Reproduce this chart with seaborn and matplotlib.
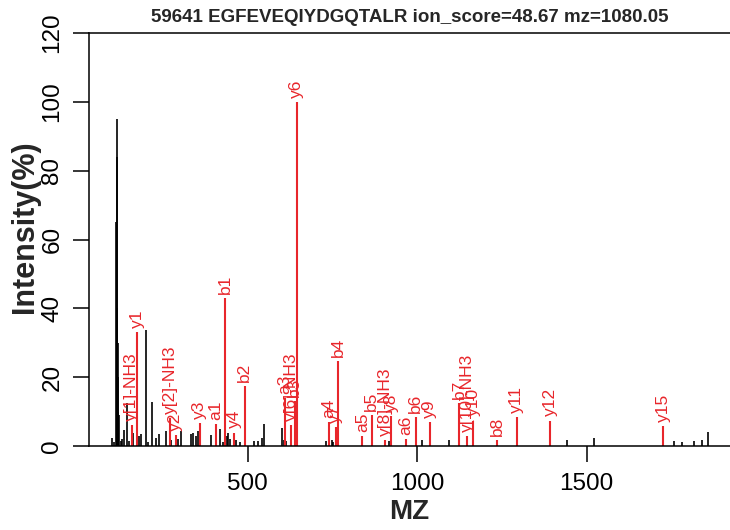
import matplotlib
matplotlib.use("Agg")
import matplotlib.pyplot as plt
import seaborn as sns

TITLE = "59641 EGFEVEQIYDGQTALR ion_score=48.67 mz=1080.05"

# unannotated peaks (m/z, relative intensity %)
black_mz = [100.7, 106.5, 113.11, 114.11, 115.11, 116.11, 117.12, 118.11, 119.12,
            121.12, 125.4, 130.0, 136.0, 143.0, 150.9, 162.7, 180.0, 187.0, 200.0,
            206.9, 218.7, 228.5, 239.4, 258.0, 275.0, 295.0, 305.0, 332.7, 339.6,
            347.5, 354.0, 391.0, 420.0, 428.0, 438.0, 443.0, 447.5, 465.5, 477.0,
            519.6, 530.0, 541.0, 549.0, 601.0, 606.0, 612.0, 647.0, 731.0, 748.0,
            752.0, 917.0, 1013.0, 1094.7, 1443.0, 1521.6, 1758.5, 1782.0, 1815.6,
            1839.0, 1857.0]
black_int = [2.2, 1.2, 65, 95, 84, 40, 30, 20, 10,
             9, 1.5, 2.0, 4.6, 12.6, 1.5, 3.9, 2.9, 3.4, 33.7,
             1.2, 12.9, 2.2, 3.5, 4.5, 1.8, 2.0, 4.5, 3.4, 3.9,
             2.9, 4.3, 3.1, 5.0, 1.2, 2.9, 3.9, 2.0, 1.6, 1.2,
             1.4, 1.5, 2.3, 6.5, 5.3, 1.8, 1.4, 27, 1.5, 1.7,
             1.2, 1.4, 1.7, 1.6, 1.6, 2.3, 1.4, 1.3, 1.4,
             1.6, 4.0]

# matched fragment ions
ion_labels = ["y[1]-NH3", "y1", "y[2]-NH3", "y2", "y3", "a1", "b1", "y4", "b2",
              "a3", "y[6]-NH3", "b3", "y6", "a4", "y7", "b4", "a5", "b5",
              "y[8]-NH3", "y8", "a6", "b6", "y9", "b7", "y[10]-NH3", "y10",
              "b8", "y11", "y12", "y15"]
ion_mz = [158.09, 175.12, 271.18, 288.20, 359.24, 406.26, 434.26, 460.29, 491.28,
          610.35, 628.34, 638.35, 645.37, 739.39, 760.40, 767.39, 838.46, 866.46,
          906.43, 923.46, 967.50, 995.50, 1036.54, 1123.56, 1147.57, 1164.60,
          1236.64, 1293.64, 1392.71, 1725.84]
ion_int = [6.0, 33.0, 8.0, 3.2, 6.7, 6.4, 43.0, 3.9, 17.4,
           14.0, 6.0, 13.0, 100.0, 6.9, 5.6, 24.7, 2.9, 9.0,
           1.7, 8.7, 1.9, 8.5, 6.9, 12.4, 2.9, 7.4,
           1.7, 8.3, 7.4, 5.8]

RED = "#E8262B"

sns.set_style("ticks")
plt.rcParams["font.family"] = ["Liberation Sans", "DejaVu Sans"]

fig = plt.figure(figsize=(7.3, 5.3), dpi=100)
ax = fig.add_axes([89 / 730, 84 / 530, 641 / 730, 413 / 530])
ax.set_xlim(32.2, 1922.7)
ax.set_ylim(0, 120)

ax.vlines(black_mz, 0, black_int, color="black", lw=1.2)
ax.vlines(ion_mz, 0, ion_int, color=RED, lw=1.5)
for lab, x, y in zip(ion_labels, ion_mz, ion_int):
    ax.annotate(lab, (x, y), xytext=(0, 3), textcoords="offset points",
                rotation=90, ha="center", va="bottom", color=RED, fontsize=12.5)

ax.set_xticks([500, 1000, 1500])
ax.set_yticks(range(0, 121, 20))
ax.tick_params(axis="both", direction="out", length=11.5, width=1.1,
               labelsize=17.5, colors="black")
ax.tick_params(axis="x", pad=8)
ax.tick_params(axis="y", pad=7, labelrotation=90)
for lbl in ax.get_yticklabels():
    lbl.set_va("center")

for side in ["left", "top", "bottom"]:
    ax.spines[side].set_linewidth(1.1)
    ax.spines[side].set_color("black")
ax.spines["right"].set_visible(False)

ax.set_xlabel("MZ", fontsize=20, fontweight="bold")
ax.set_ylabel("Intensity(%)", fontsize=22, fontweight="bold")
ax.xaxis.set_label_coords(0.5, -0.128)
ax.yaxis.set_label_coords(-0.077, 0.53)

fig.text((89 + 730) / 2 / 730, 1 - 18 / 530, TITLE, ha="center", va="center",
         fontsize=13.5, fontweight="bold")

fig.savefig("out.png", dpi=100)
